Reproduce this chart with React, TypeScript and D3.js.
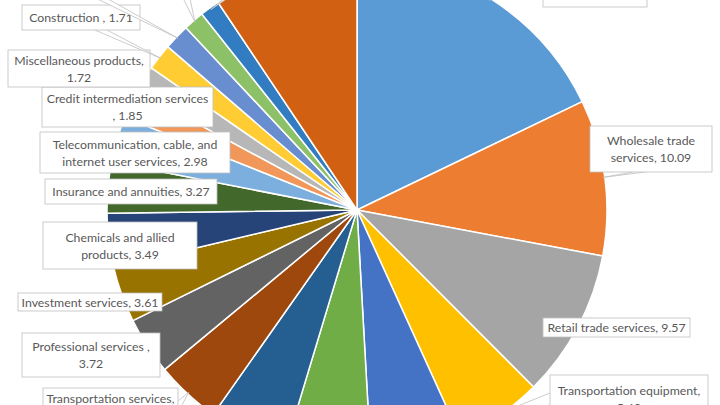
import React from 'react';
import * as d3 from 'd3';

// shares in percent, clockwise from 12 o'clock
const categories = [
  'Real estate services',
  'Wholesale trade services',
  'Retail trade services',
  'Transportation equipment',
  'Food and beverage products',
  'Computer and electronic products',
  'Machinery',
  'Transportation services',
  'Professional services ',
  'Investment services',
  'Chemicals and allied products',
  'Insurance and annuities',
  'Telecommunication, cable, and internet user services',
  'Credit intermediation services ',
  'Miscellaneous products',
  'Construction ',
  'Petroleum and coal products',
  'Primary metals',
  'Plastics and rubber products',
  'All other',
];
const values = [
  17.86, 10.09, 9.57, 5.69, 5.9, 5.55, 5.1, 4.22, 3.72, 3.61,
  3.49, 3.27, 2.98, 1.85, 1.72, 1.71, 1.68, 1.33, 1.27, 9.39,
];
const colors = [
  '#5B9BD5', '#ED7D31', '#A5A5A5', '#FFC000', '#4472C4', '#70AD47',
  '#255E91', '#9E480E', '#636363', '#997300', '#264478', '#43682B',
  '#7CAFDD', '#F1975A', '#B7B7B7', '#FFCD33', '#698ED0', '#8CC168',
  '#327DC2', '#D26012',
];

// callout boxes (layout only), firstLine = words on first line, 0 = single line
const labelBoxes = [
  { x: 543, y: -42, w: 104, h: 49, firstLine: 2 },
  { x: 590, y: 126, w: 122, h: 46, firstLine: 2 },
  { x: 543, y: 318, w: 147, h: 19, firstLine: 0 },
  { x: 550, y: 375, w: 158, h: 48, firstLine: 2 },
  { x: 450, y: 430, w: 150, h: 40, firstLine: 3 },
  { x: 300, y: 440, w: 150, h: 40, firstLine: 3 },
  { x: 150, y: 430, w: 120, h: 25, firstLine: 0 },
  { x: 43, y: 388, w: 135, h: 38, firstLine: 2 },
  { x: 22, y: 333, w: 138, h: 44, firstLine: 3 },
  { x: 18, y: 293, w: 144, h: 18, firstLine: 0 },
  { x: 43, y: 222, w: 154, h: 47, firstLine: 3 },
  { x: 45, y: 179, w: 172, h: 25, firstLine: 0 },
  { x: 40, y: 132, w: 190, h: 41, firstLine: 3 },
  { x: 42, y: 87, w: 171, h: 40, firstLine: 3 },
  { x: 8, y: 50, w: 142, h: 37, firstLine: 2 },
  { x: 22, y: 5, w: 118, h: 25, firstLine: 0 },
  { x: 0, y: -46, w: 130, h: 40, firstLine: 2 },
  { x: 120, y: -60, w: 110, h: 40, firstLine: 2 },
  { x: 230, y: -75, w: 120, h: 40, firstLine: 2 },
  { x: 300, y: -90, w: 80, h: 25, firstLine: 0 },
];

const W = 720;
const H = 405;
const cx = 357;
const cy = 210;
const R = 250;

export default function App() {
  const pie = d3.pie<number>().sort(null).value(d => d)(values);
  const arc = d3.arc<d3.PieArcDatum<number>>().innerRadius(0).outerRadius(R);
  const edge = d3.arc<d3.PieArcDatum<number>>().innerRadius(R - 2).outerRadius(R - 2);

  const labels = pie.map((p, i) => {
    const b = labelBoxes[i];
    const text = `${categories[i]}, ${values[i].toFixed(2)}`;
    const words = text.split(' ');
    const lines = b.firstLine
      ? [words.slice(0, b.firstLine).join(' '), words.slice(b.firstLine).join(' ')]
      : [text];
    const [ax, ay] = edge.centroid(p);
    const px = cx + ax;
    const py = cy + ay;
    let pointer: string | null = null;
    const outside = px < b.x - 3 || px > b.x + b.w + 3 || py < b.y - 3 || py > b.y + b.h + 3;
    if (outside) {
      const bw = 6;
      let p1: [number, number];
      let p2: [number, number];
      if (py > b.y + b.h || py < b.y) {
        const ey = py > b.y + b.h ? b.y + b.h : b.y;
        const mx = Math.max(b.x + bw, Math.min(b.x + b.w - bw, b.x + b.w / 2 + 0.25 * (px - b.x - b.w / 2)));
        p1 = [mx - bw, ey];
        p2 = [mx + bw, ey];
      } else {
        const ex = px < b.x ? b.x : b.x + b.w;
        const my = b.y + b.h / 2;
        p1 = [ex, my - bw];
        p2 = [ex, my + bw];
      }
      pointer = `M${p1[0]},${p1[1]}L${px},${py}L${p2[0]},${p2[1]}`;
    }
    return { b, lines, pointer, key: categories[i] };
  });

  return (
    <div style={{ position: 'fixed', left: 0, top: 0 }}>
      <svg width={W} height={H} style={{ display: 'block', background: '#fff' }}>
        <g transform={`translate(${cx},${cy})`}>
          {pie.map((p, i) => (
            <path key={categories[i]} d={arc(p) ?? ''} fill={colors[i]} stroke="#fff" strokeWidth={1.5} strokeLinejoin="round" />
          ))}
        </g>
        <g fontFamily="Lato, 'Open Sans', sans-serif" fontSize={12.3} fill="#595959">
          {labels.map(l => (
            <g key={l.key}>
              {l.pointer && <path d={l.pointer} fill="#fff" stroke="#bfbfbf" strokeWidth={0.8} />}
              <rect x={l.b.x} y={l.b.y} width={l.b.w} height={l.b.h} fill="#fff" stroke="#bfbfbf" strokeWidth={0.8} />
              {l.lines.map((t, j) => (
                <text
                  key={j}
                  x={l.b.x + l.b.w / 2}
                  y={l.b.y + l.b.h / 2 + (j - (l.lines.length - 1) / 2) * 17}
                  textAnchor="middle"
                  dominantBaseline="central"
                >
                  {t}
                </text>
              ))}
            </g>
          ))}
        </g>
      </svg>
    </div>
  );
}
